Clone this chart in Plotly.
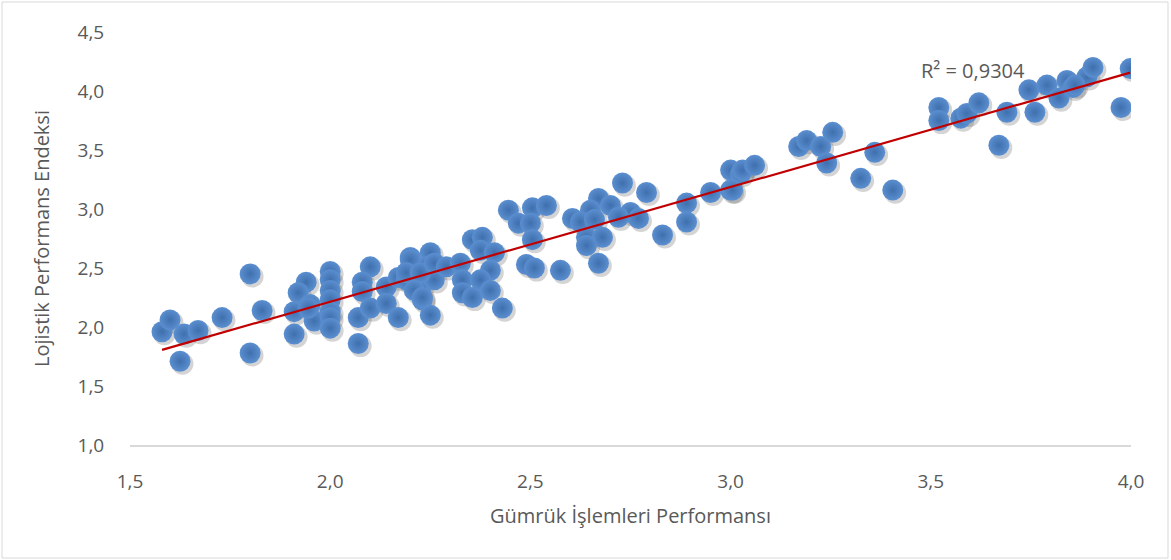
import numpy as np
import plotly.graph_objects as go

# Gümrük işlemleri performansı (x) ve lojistik performans endeksi (y)
customs = [
    1.58, 1.60, 1.625, 1.635, 1.67, 1.73, 1.80, 1.80, 1.83,
    1.91, 1.91, 1.94, 1.92, 1.95, 1.96, 1.945,
    2.00, 2.00, 2.00, 2.00, 2.00, 2.00, 2.00,
    2.10, 2.08, 2.08, 2.07, 2.07, 2.10, 2.14, 2.14, 2.17, 2.17,
    2.20, 2.20, 2.19, 2.25, 2.24, 2.225, 2.23, 2.25, 2.26,
    2.20, 2.19, 2.225, 2.26, 2.29, 2.325, 2.21, 2.23,
    2.33, 2.33, 2.355, 2.355, 2.38, 2.375, 2.41, 2.40, 2.375, 2.40, 2.43,
    2.445, 2.47, 2.505, 2.54, 2.50, 2.505, 2.49, 2.51, 2.575,
    2.73, 2.79, 2.67, 2.70, 2.65, 2.605, 2.625, 2.66, 2.75, 2.77, 2.72,
    2.64, 2.68, 2.64, 2.67, 2.83, 2.89, 2.89,
    2.95, 3.00, 3.00, 3.025, 3.005, 3.03, 3.06,
    3.17, 3.19, 3.225, 3.255, 3.24, 3.325, 3.36, 3.405,
    3.52, 3.52, 3.575, 3.59, 3.62, 3.69, 3.67, 3.745, 3.76,
    3.79, 3.82, 3.84, 3.855, 3.89, 3.905, 3.975, 3.998, 3.86,
]
lpi = [
    1.96, 2.06, 1.71, 1.94, 1.97, 2.08, 2.45, 1.78, 2.14,
    2.13, 1.94, 2.38, 2.29, 2.19, 2.05, 2.16,
    2.47, 2.40, 2.31, 2.23, 2.13, 2.08, 1.99,
    2.51, 2.38, 2.30, 2.08, 1.86, 2.16, 2.34, 2.20, 2.08, 2.42,
    2.59, 2.50, 2.40, 2.63, 2.51, 2.31, 2.23, 2.10, 2.40,
    2.57, 2.46, 2.46, 2.54, 2.51, 2.54, 2.31, 2.25,
    2.40, 2.29, 2.25, 2.74, 2.76, 2.65, 2.63, 2.48, 2.40, 2.31, 2.16,
    2.99, 2.88, 3.01, 3.03, 2.88, 2.74, 2.53, 2.50, 2.48,
    3.22, 3.14, 3.09, 3.03, 2.99, 2.92, 2.89, 2.91, 2.97, 2.92, 2.93,
    2.76, 2.76, 2.69, 2.54, 2.78, 3.05, 2.89,
    3.14, 3.33, 3.16, 3.30, 3.16, 3.33, 3.37,
    3.53, 3.58, 3.53, 3.65, 3.39, 3.26, 3.48, 3.16,
    3.86, 3.75, 3.77, 3.81, 3.90, 3.82, 3.54, 4.01, 3.82,
    4.05, 3.94, 4.09, 4.03, 4.12, 4.20, 3.86, 4.19, 4.05,
]
r2_text = "R² = 0,9304"

x = np.array(customs)
y = np.array(lpi)

# Linear trend line over the data range
slope, intercept = np.polyfit(x, y, 1)
x_fit = np.array([x.min(), x.max()])
y_fit = slope * x_fit + intercept

fig = go.Figure()

# soft drop shadow below each marker
fig.add_trace(go.Scatter(
    x=x + 0.006, y=y - 0.022, mode="markers",
    marker=dict(size=22, color="rgba(60,60,60,0.22)", line=dict(width=0)),
    hoverinfo="skip", showlegend=False,
))
fig.add_trace(go.Scatter(
    x=x, y=y, mode="markers",
    marker=dict(size=21, color="#5b8fd0",
                gradient=dict(type="radial", color="#3f6fad"),
                line=dict(width=0)),
    showlegend=False,
))
fig.add_trace(go.Scatter(
    x=x_fit, y=y_fit, mode="lines",
    line=dict(color="#c00000", width=2.2),
    hoverinfo="skip", showlegend=False,
))

fig.add_annotation(
    x=3.605, y=4.175, text=r2_text, showarrow=False,
    xref="x", yref="y", font=dict(size=20, color="#595959"),
)

# outer chart border
fig.add_shape(
    type="rect", xref="paper", yref="paper",
    x0=(2 - 130) / 1001, x1=(1168 - 130) / 1001,
    y0=(445 - 558) / 413, y1=(445 - 2) / 413,
    line=dict(color="#d9d9d9", width=1), layer="below",
)

font_family = "Open Sans, Liberation Sans, sans-serif"
fig.update_layout(
    width=1171, height=560,
    margin=dict(l=130, r=40, t=32, b=115),
    paper_bgcolor="white", plot_bgcolor="white",
    separators=",.",
    font=dict(family=font_family, size=19, color="#595959"),
    xaxis=dict(
        range=[1.5, 4.0], tickvals=[1.5, 2.0, 2.5, 3.0, 3.5, 4.0],
        tickformat=".1f", showgrid=False, zeroline=False,
        showline=True, linecolor="#d9d9d9", linewidth=2,
        ticks="outside", ticklen=18, tickcolor="rgba(0,0,0,0)",
        title=dict(text="Gümrük İşlemleri Performansı",
                   font=dict(size=20, color="#595959"), standoff=16),
        tickfont=dict(size=19, color="#595959"),
    ),
    yaxis=dict(
        range=[1.0, 4.5], tickvals=[1.0, 1.5, 2.0, 2.5, 3.0, 3.5, 4.0, 4.5],
        tickformat=".1f", showgrid=False, zeroline=False, showline=False,
        ticks="outside", ticklen=21, tickcolor="rgba(0,0,0,0)",
        title=dict(text="Lojistik Performans Endeksi",
                   font=dict(size=20, color="#595959"), standoff=22),
        tickfont=dict(size=19, color="#595959"),
    ),
)

fig.write_html("out.html")
